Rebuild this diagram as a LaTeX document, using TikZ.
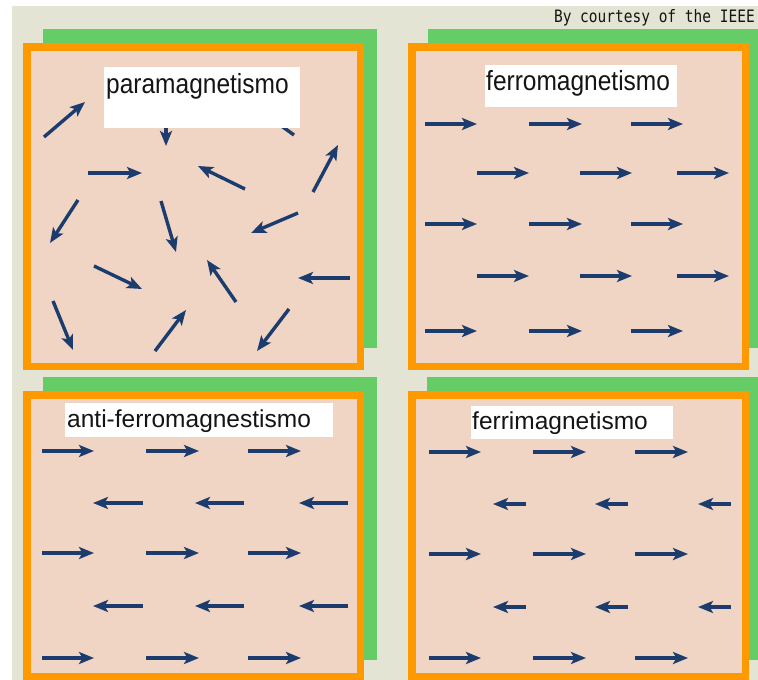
\documentclass[tikz,border=0pt]{standalone}
\usepackage{graphicx}
\usepackage{fontspec}
\setmainfont{Liberation Sans}
\newfontfamily\monofont{DejaVu Sans Mono}
\usetikzlibrary{arrows.meta}
\definecolor{bgbeige}{RGB}{228,228,212}
\definecolor{grn}{RGB}{102,204,102}
\definecolor{org}{RGB}{255,153,0}
\definecolor{pnk}{RGB}{240,213,197}
\definecolor{navy}{RGB}{28,60,110}
\definecolor{txt}{RGB}{20,20,20}
\begin{document}
\begin{tikzpicture}[x=1pt,y=-1pt,
  greenrect/.style={fill=grn},
  panel/.style={draw=org,fill=pnk,line width=7.5pt},
  labelbox/.style={fill=white},
  labeltext/.style={anchor=base west,inner sep=0pt,font=\fontsize{24.5}{29}\selectfont,text=txt},
  spin/.style={draw=navy,line width=3.4pt,-{Stealth[length=15pt,width=12pt,inset=3.5pt]}},
  ]
\useasboundingbox (0,0) rectangle (758,680);
\clip (0,0) rectangle (758,680);
\fill[white] (0,0) rectangle (758,680);
\fill[bgbeige] (12,6) rectangle (760,682);
% green backs
\fill[greenrect] (43,29) rectangle (377,348);
\fill[greenrect] (428,29) rectangle (760,348);
\fill[greenrect] (43,377) rectangle (377,660);
\fill[greenrect] (427,377) rectangle (760,660);
% panels
\path[panel] (26.75,46.75) rectangle (360.25,366.25);
\path[panel] (411.75,46.75) rectangle (745.25,366.25);
\path[panel] (26.75,394.75) rectangle (360.25,676.25);
\path[panel] (411.75,394.75) rectangle (745.25,676.25);
% paramagnetism spins
\foreach \xa/\ya/\xb/\yb in {44/137/85/102, 166/112/166/146, 294/135/262/112,
  88/173/142/173, 313/192/338/145, 245/189/198/166,
  78/200/50/243, 161/201/176/252, 298/213/251/233,
  94/266/142/289, 236/302/207/260, 350/278/298/278,
  53/301/73/350, 155/351/186/310, 289/309/257/351}
  \draw[spin] (\xa,\ya) -- (\xb,\yb);
% ferromagnetism spins
\foreach \y in {124,224,331}
  \foreach \xa/\xb in {425/477,529/582,631/683}
    \draw[spin] (\xa,\y) -- (\xb,\y);
\foreach \y in {173,276}
  \foreach \xa/\xb in {477/529,580/632,677/729}
    \draw[spin] (\xa,\y) -- (\xb,\y);
% antiferromagnetism spins
\foreach \y in {451,553,658}
  \foreach \xa/\xb in {42/94,146/199,248/301}
    \draw[spin] (\xa,\y) -- (\xb,\y);
\foreach \y in {503,606}
  \foreach \xa/\xb in {143/93,244/195,348/299}
    \draw[spin] (\xa,\y) -- (\xb,\y);
% ferrimagnetism spins
\foreach \y in {452,554,658}
  \foreach \xa/\xb in {429/481,533/586,635/688}
    \draw[spin] (\xa,\y) -- (\xb,\y);
\foreach \y in {504,607}
  \foreach \xa/\xb in {526/493,628/595,731/698}
    \draw[spin] (\xa,\y) -- (\xb,\y);
% label boxes
\fill[labelbox] (104,67) rectangle (300,128);
\fill[labelbox] (485,65) rectangle (677,107);
\fill[labelbox] (65,403) rectangle (333,437);
\fill[labelbox] (471,406) rectangle (673,439);
% labels
\node[labeltext] (lpara) at (106,93) {\scalebox{1}[1.13]{paramagnetismo}};
\node[labeltext] (lferro) at (486,90) {\scalebox{1}[1.13]{ferromagnetismo}};
\node[labeltext] (lanti) at (67,427) {anti-ferromagnestismo};
\node[labeltext] (lferri) at (472,429) {ferrimagnetismo};
\node[anchor=base east,inner sep=0pt,font=\monofont\fontsize{14.5}{18}\selectfont,text=txt] (court) at (755,23) {\scalebox{1}[1.18]{By courtesy of the IEEE}};
\end{tikzpicture}
\end{document}
